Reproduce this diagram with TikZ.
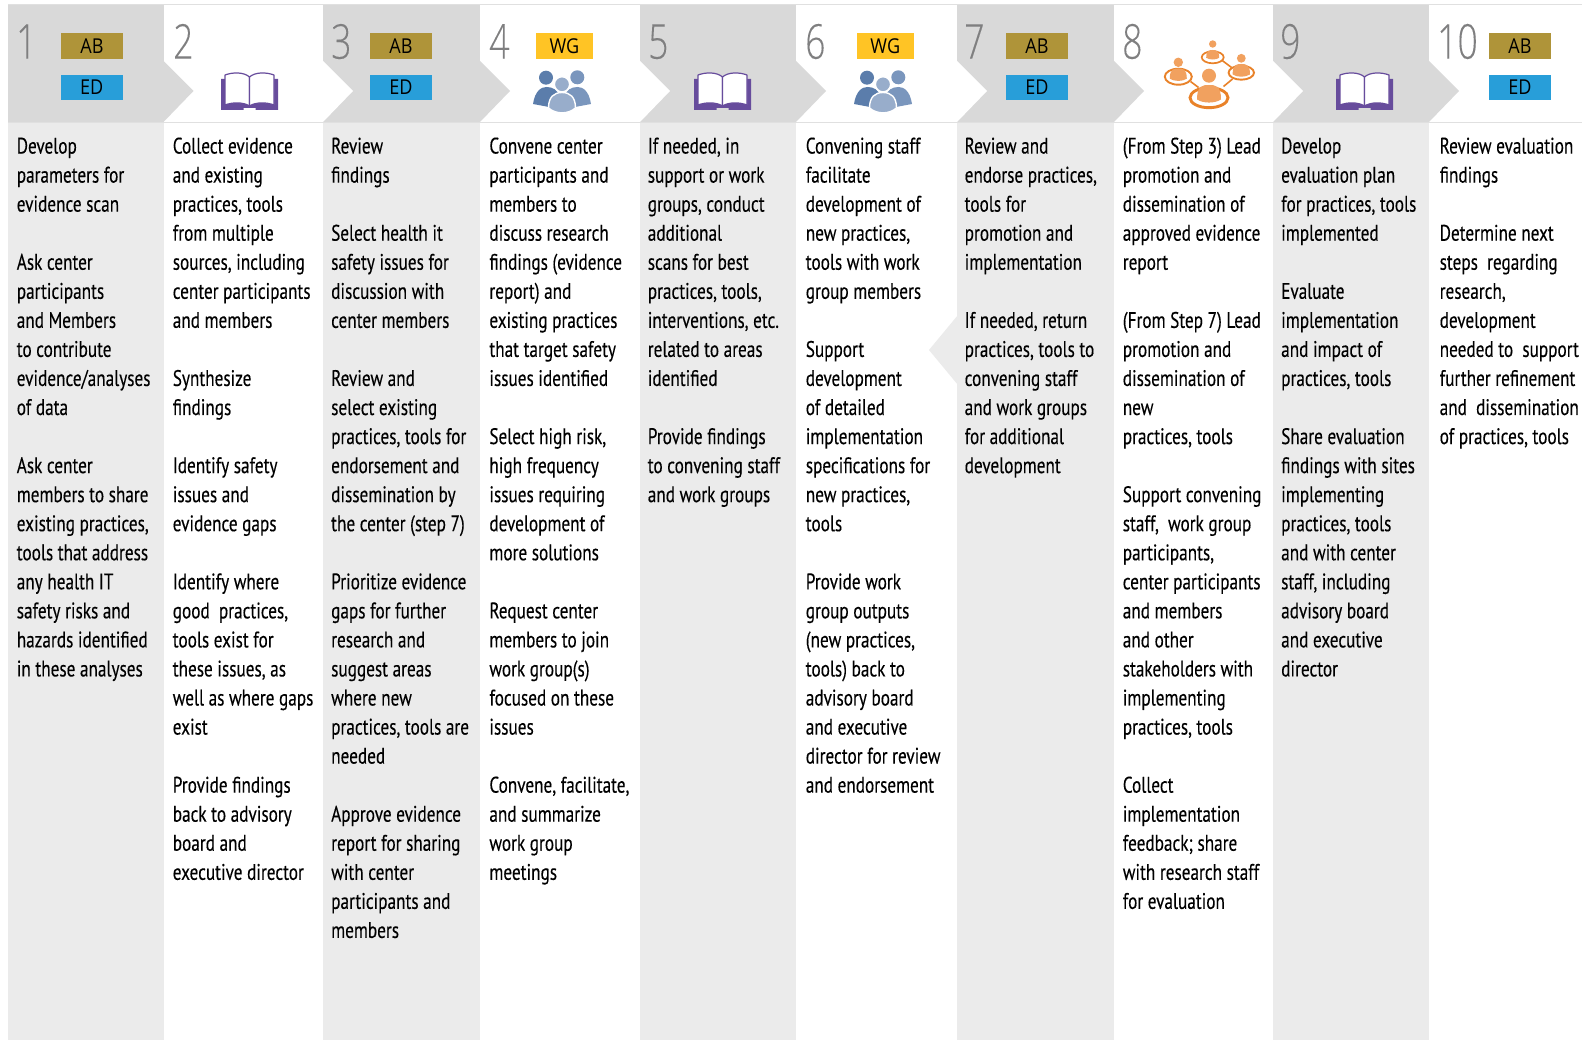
\documentclass[tikz,border=0pt]{standalone}
\usepackage{fontspec}
\setmainfont[FakeStretch=0.765,FakeBold=0.25]{PT Sans}
\newfontfamily\numfont[FakeStretch=0.74,FakeBold=0.1]{Open Sans Light}
\newfontfamily\tagfont[FakeStretch=0.88]{Open Sans}
\definecolor{hdr}{HTML}{D9D9D9}
\definecolor{bodygray}{HTML}{EBEBEB}
\definecolor{rulegray}{HTML}{E0E0E0}
\definecolor{numgray}{HTML}{7F7F80}
\definecolor{abcol}{HTML}{AF9439}
\definecolor{edcol}{HTML}{289ED9}
\definecolor{wgcol}{HTML}{FFC425}
\definecolor{bookcol}{HTML}{674C9C}
\definecolor{pA}{HTML}{5B7DAB}
\definecolor{pB}{HTML}{7A96BD}
\definecolor{pC}{HTML}{98ADCB}
\definecolor{netfill}{HTML}{F1A15F}
\definecolor{netring}{HTML}{E98229}
\tikzset{
  tagbox/.style={minimum height=25.5pt,inner sep=0pt,text=black,font=\tagfont\fontsize{20.5}{22}\selectfont},
  abtag/.style={tagbox,fill=abcol,minimum width=61.5pt},
  edtag/.style={tagbox,fill=edcol,minimum width=62pt},
  wgtag/.style={tagbox,fill=wgcol,minimum width=57pt},
  stepnum/.style={anchor=base west,inner sep=0pt,text=numgray,font=\numfont\fontsize{48}{50}\selectfont},
  coltext/.style={anchor=north west,inner sep=0pt,align=left,text=black,font=\fontsize{22.5}{29.05}\selectfont},
  bookpage/.style={fill=white,draw=bookcol,line width=1.2pt,line join=round},
}
\newcommand{\para}{\\[29.05pt]}
\newcommand{\dsp}{\ \ }
\newcommand{\bookicon}[2]{%
  \begin{scope}[shift={(#1,#2)}]
    \fill[bookcol] (0,7) -- (57,7) -- (57,38) -- (34.5,38) -- (34.5,36) -- (22.5,36) -- (22.5,38) -- (0,38) -- cycle;
    \path[bookpage] (4,3) .. controls (12,0) and (23,0) .. (28.5,5) -- (28.5,34) .. controls (22,30) and (12,30) .. (4,33) -- cycle;
    \path[bookpage] (53,3) .. controls (45,0) and (34,0) .. (28.5,5) -- (28.5,34) .. controls (35,30) and (45,30) .. (53,33) -- cycle;
  \end{scope}}
\newcommand{\peopleicon}[2]{%
  \begin{scope}[shift={(#1,#2)}]
    \fill[pA] (13,7.7) circle (7);
    \fill[pB] (44.3,7.3) circle (7);
    \fill[pA] (0,34) .. controls (2,21) and (8,17) .. (13.5,17) .. controls (20,17) and (24,20) .. (27,26) -- (16,37) -- cycle;
    \fill[pB] (58,34) .. controls (56,21) and (50,17) .. (44.5,17) .. controls (38,17) and (34,20) .. (31,26) -- (42,37) -- cycle;
    \fill[pC,draw=white,line width=1.4pt] (29,14.3) circle (7.6);
    \fill[pC,draw=white,line width=1.4pt] (15.5,38) .. controls (15.5,27) and (21,22.5) .. (29,22.5) .. controls (37,22.5) and (42.5,27) .. (42.5,38) .. controls (35,44.5) and (23,44.5) .. (15.5,38) -- cycle;
  \end{scope}}
% centre x, head y, head r, ring y, ring rx, ring ry, dome half width, dome top, ring width
\newcommand{\netperson}[9]{%
  \draw[netring,line width=#9pt,fill=white] (#1,#4) ellipse [x radius=#5,y radius=#6];
  \fill[netfill] (#1,#2) circle (#3);
  \fill[netfill] (#1-#7,#8+1.2*#7) .. controls (#1-#7,#8+0.1) and (#1-#7*0.5,#8) .. (#1,#8) .. controls (#1+#7*0.5,#8) and (#1+#7,#8+0.1) .. (#1+#7,#8+1.2*#7) .. controls (#1+#7*0.5,#8+1.55*#7) and (#1-#7*0.5,#8+1.55*#7) .. (#1-#7,#8+1.2*#7) -- cycle;}
\begin{document}
\begin{tikzpicture}[x=1pt,y=-1pt]
\useasboundingbox (0,0) rectangle (1582,1040);
\fill[white] (0,0) rectangle (1582,1040);
% body bands
\foreach \a/\b in {8/163.5,323/480,640/796,957/1114,1273/1429}
  \fill[bodygray] (\a,122) rectangle (\b,1040);
% return arrow
\fill[bodygray] (958,315) -- (929,350) -- (958,385) -- cycle;
% rules
\draw[rulegray,line width=1pt] (8,5) -- (1582,5);
\draw[rulegray,line width=1pt] (8,122.5) -- (1582,122.5);
% header bands
\foreach \a/\b in {8/163.5,323/480,640/796,957/1114,1273/1429}
  \fill[hdr] (\a,5.5) rectangle (\b,122);
% chevrons
\foreach \b in {163.5,480,796,1114,1429}
  \fill[hdr] (\b,61) -- (\b+30,91) -- (\b,122) -- cycle;
\foreach \b in {323,640,957,1273}
  \fill[white] (\b,61) -- (\b+30,91) -- (\b,122) -- cycle;
% numbers
\node[stepnum] (n1) at (16,58.7) {1};
\node[stepnum] (n2) at (173,58.7) {2};
\node[stepnum] (n3) at (331,58.7) {3};
\node[stepnum] (n4) at (489,58.7) {4};
\node[stepnum] (n5) at (648,58.7) {5};
\node[stepnum] (n6) at (805,58.7) {6};
\node[stepnum] (n7) at (964,58.7) {7};
\node[stepnum] (n8) at (1122,58.7) {8};
\node[stepnum] (n9) at (1280,58.7) {9};
\node[stepnum] (n10) at (1437,58.7) {10};
% tags
\node[abtag] (ab1) at (92,46) {AB};
\node[edtag] (ed1) at (91.7,87.3) {ED};
\node[abtag] (ab3) at (401,46) {AB};
\node[edtag] (ed3) at (401,87.3) {ED};
\node[wgtag] (wg4) at (564.5,46) {WG};
\node[wgtag] (wg6) at (885.3,46) {WG};
\node[abtag] (ab7) at (1037,46) {AB};
\node[edtag] (ed7) at (1037,87.3) {ED};
\node[abtag] (ab10) at (1520,46) {AB};
\node[edtag] (ed10) at (1520,87.3) {ED};
% icons
\bookicon{221}{72}
\bookicon{694}{72}
\bookicon{1336}{72}
\peopleicon{533}{70}
\peopleicon{854}{70}
\begin{scope}[shift={(1150,30)}]
  \coordinate (lab) at (71.5,30); \coordinate (lba) at (81.5,37.5);
  \coordinate (lcd) at (40.5,51.5); \coordinate (ldc) at (48.5,57.5);
  \coordinate (ldb) at (73.5,56.5); \coordinate (lbd) at (82.5,49);
  \draw[netring,line width=1.6pt] (lab) -- (lba);
  \draw[netring,line width=1.6pt] (lcd) -- (ldc);
  \draw[netring,line width=1.6pt] (ldb) -- (lbd);
  \netperson{62.7}{14}{3.7}{27.3}{11}{6}{6.5}{20}{1.7}
  \netperson{91.3}{28.3}{4.4}{42.7}{12.7}{7}{8.7}{34}{1.9}
  \netperson{28.3}{32.3}{4.7}{46.7}{13.5}{8}{8.5}{38.5}{1.9}
  \netperson{59}{45.7}{7}{67.7}{19}{10}{12}{55}{2.9}
\end{scope}
% texts
\node[coltext] (t1) at (16.6,133) {\strut Develop\\parameters for\\evidence scan\para Ask center\\participants\\and Members\\to contribute\\evidence/analyses\\of data\para Ask center\\members to share\\existing practices,\\tools that address\\any health IT\\safety risks and\\hazards identified\\in these analyses};
\node[coltext] (t2) at (172.6,133) {\strut Collect evidence\\and existing\\practices, tools\\from multiple\\sources, including\\center participants\\and members\para Synthesize\\findings\para Identify safety\\issues and\\evidence gaps\para Identify where\\good\dsp practices,\\tools exist for\\these issues, as\\well as where gaps\\exist\para Provide findings\\back to advisory\\board and\\executive director};
\node[coltext] (t3) at (331,133) {\strut Review\\findings\para Select health it\\safety issues for\\discussion with\\center members\para Review and\\select existing\\practices, tools for\\endorsement and\\dissemination by\\the center (step 7)\para Prioritize evidence\\gaps for further\\research and\\suggest areas\\where new\\practices, tools are\\needed\para Approve evidence\\report for sharing\\with center\\participants and\\members};
\node[coltext] (t4) at (489.2,133) {\strut Convene center\\participants and\\members to\\discuss research\\findings (evidence\\report) and\\existing practices\\that target safety\\issues identified\para Select high risk,\\high frequency\\issues requiring\\development of\\more solutions\para Request center\\members to join\\work group(s)\\focused on these\\issues\para Convene, facilitate,\\and summarize\\work group\\meetings};
\node[coltext] (t5) at (647.6,133) {\strut If needed, in\\support or work\\groups, conduct\\additional\\scans for best\\practices, tools,\\interventions, etc.\\related to areas\\identified\para Provide findings\\to convening staff\\and work groups};
\node[coltext] (t6) at (805.6,133) {\strut Convening staff\\facilitate\\development of\\new practices,\\tools with work\\group members\para Support\\development\\of detailed\\implementation\\specifications for\\new practices,\\tools\para Provide work\\group outputs\\(new practices,\\tools) back to\\advisory board\\and executive\\director for review\\and endorsement};
\node[coltext] (t7) at (964.5,133) {\strut Review and\\endorse practices,\\tools for\\promotion and\\implementation\para If needed, return\\practices, tools to\\convening staff\\and work groups\\for additional\\development};
\node[coltext] (t8) at (1122.6,133) {\strut (From Step 3) Lead\\promotion and\\dissemination of\\approved evidence\\report\para (From Step 7) Lead\\promotion and\\dissemination of\\new\\practices, tools\para Support convening\\staff,\dsp work group\\participants,\\center participants\\and members\\and other\\stakeholders with\\implementing\\practices, tools\para Collect\\implementation\\feedback; share\\with research staff\\for evaluation};
\node[coltext] (t9) at (1281,133) {\strut Develop\\evaluation plan\\for practices, tools\\implemented\para Evaluate\\implementation\\and impact of\\practices, tools\para Share evaluation\\findings with sites\\implementing\\practices, tools\\and with center\\staff, including\\advisory board\\and executive\\director};
\node[coltext] (t10) at (1439.5,133) {\strut Review evaluation\\findings\para Determine next\\steps\dsp regarding\\research,\\development\\needed to\dsp support\\further refinement\\and\dsp dissemination\\of practices, tools};
\end{tikzpicture}
\end{document}
